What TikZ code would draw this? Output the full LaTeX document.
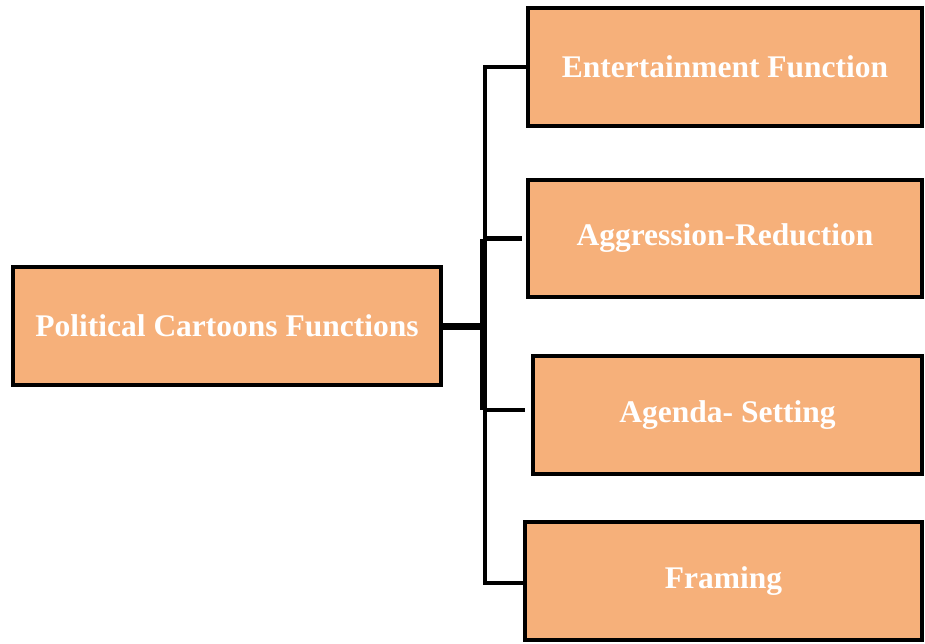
\documentclass[tikz,border=0pt]{standalone}
\usepackage{fontspec}
\setmainfont{Liberation Serif}
\definecolor{boxfill}{HTML}{F6B07A}
\begin{document}
\begin{tikzpicture}[x=1pt,y=-1pt,
  fbox/.style={draw=black, line width=4pt, fill=boxfill, rectangle,
    inner sep=0pt, text=white, font=\fontsize{31.5}{34}\selectfont\bfseries},
  thinlink/.style={draw=black, line width=4.5pt},
  thicklink/.style={draw=black, line width=7pt}]
\useasboundingbox (0,0) rectangle (925,644);
\node[fbox, minimum width=428pt, minimum height=118pt] (root) at (227,326) {Political Cartoons Functions};
\node[fbox, minimum width=394pt, minimum height=118pt] (ent) at (725,67) {Entertainment Function};
\node[fbox, minimum width=394pt, minimum height=117pt] (agg) at (725,238.5) {Aggression-Reduction};
\node[fbox, minimum width=389pt, minimum height=118pt] (age) at (727.5,415) {Agenda- Setting};
\node[fbox, minimum width=397pt, minimum height=118pt] (fra) at (723.5,581) {Framing};
\coordinate (top) at (485,67);
\coordinate (bot) at (485,583);
\coordinate (j) at (485,326);
\coordinate (ja) at (483,238.5);
\coordinate (jb) at (483,410);
\draw[thinlink, line cap=rect] (top) -- (bot);
\draw[thicklink] (ja) -- (jb);
\draw[thicklink] (root.east) -- (j);
\draw[thinlink] (top) -- (ent.west);
\draw[thinlink] (ja) -- ([xshift=-4pt]agg.west);
\draw[thinlink] (jb) -- ([xshift=-6pt]jb -| age.west);
\draw[thinlink] (bot) -- (bot -| fra.west);
\end{tikzpicture}
\end{document}
